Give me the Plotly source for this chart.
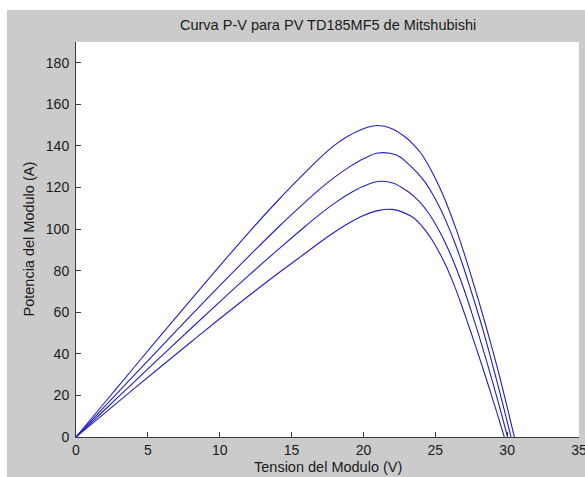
import plotly.graph_objects as go

# ---- Data ----
v_curve1 = [0, 2, 4, 6, 8, 10, 12, 14, 16, 17, 18, 19, 20, 21, 22, 23, 23.5, 24, 24.5, 25,
            25.5, 26, 26.5, 27, 27.5, 28, 28.5, 29, 29.5, 30, 30.5]
p_curve1 = [0, 16.6, 33.2, 49.7, 66.1, 82.3, 98.2, 113.4, 127.6, 134.4, 140.4, 145.0, 148.3, 149.8,
            148.3, 143.8, 140.5, 136.5, 131.0, 124.5, 117.0, 108.5, 99.0, 88.5, 77.5, 66.0, 54.0,
            41.5, 28.5, 14.5, 0]

v_curve2 = [0, 2, 4, 6, 8, 10, 12, 14, 16, 17, 18, 19, 20, 21, 22.3, 23.3, 23.8, 24.3, 24.8,
            25.3, 25.8, 26.3, 26.8, 27.3, 27.8, 28.3, 28.8, 29.3, 29.8, 30.27]
p_curve2 = [0, 14.7, 29.4, 44.0, 58.5, 72.8, 86.8, 100.4, 113.3, 119.5, 125.0, 129.8, 133.8, 136.6,
            135.6, 130.2, 126.7, 122.5, 117.0, 110.5, 103.0, 94.5, 85.0, 74.5, 63.5, 52.0, 39.5,
            26.5, 13.0, 0]

v_curve3 = [0, 2, 4, 6, 8, 10, 12, 14, 16, 17, 18, 19, 20, 21, 22.05, 23.05, 23.55, 24.05,
            24.55, 25.05, 25.55, 26.05, 26.55, 27.05, 27.55, 28.05, 28.55, 29.05, 29.55, 30.03]
p_curve3 = [0, 13.1, 26.2, 39.3, 52.2, 65.0, 77.6, 89.8, 101.6, 107.3, 112.5, 117.0, 120.6, 122.9,
            122.2, 118.3, 115.5, 112.0, 107.5, 102.0, 95.5, 88.0, 79.5, 70.0, 59.5, 48.5, 37.0,
            25.0, 12.5, 0]

v_curve4 = [0, 2, 4, 6, 8, 10, 12, 14, 16, 17, 18, 19, 20, 21, 22, 23.3, 23.8, 24.3, 24.8,
            25.3, 25.8, 26.3, 26.8, 27.3, 27.8, 28.3, 28.8, 29.3, 29.8]
p_curve4 = [0, 11.5, 23.0, 34.4, 45.7, 56.9, 67.8, 78.4, 88.6, 93.8, 98.6, 102.9, 106.5, 108.9,
            109.5, 106.3, 103.5, 99.5, 94.5, 88.5, 81.5, 73.3, 64.0, 54.0, 43.8, 33.3, 22.5,
            11.5, 0]

x_ticks = [0, 5, 10, 15, 20, 25, 30, 35]
y_ticks = [0, 20, 40, 60, 80, 100, 120, 140, 160, 180]

title_text = "Curva P-V para PV TD185MF5 de Mitshubishi"
x_label = "Tension del Modulo (V)"
y_label = "Potencia del Modulo (A)"

# ---- Figure (page body offset 7px left / 10px top gives the white strips) ----
W, H = 578, 467
ML, MR, MT, MB = 69, 6, 32, 40

FONT = "Liberation Sans, Arial, sans-serif"
LINE_COLOR = "#2020c0"
GRAY = "#cbcbcb"
TXT = "#1a1a1a"

fig = go.Figure()
for v, p in [(v_curve1, p_curve1), (v_curve2, p_curve2), (v_curve3, p_curve3), (v_curve4, p_curve4)]:
    fig.add_trace(go.Scatter(x=v, y=p, mode="lines",
                             line=dict(color=LINE_COLOR, width=1.1, shape="spline", smoothing=1.0),
                             showlegend=False, hoverinfo="skip"))

axis_common = dict(showgrid=False, zeroline=False, showline=True, linecolor="#3a3a3a", linewidth=1,
                   ticks="inside", ticklen=5, tickcolor="#3a3a3a", tickwidth=1,
                   tickfont=dict(family=FONT, size=14, color=TXT), mirror=False,
                   ticklabeloverflow="allow", automargin=False)

fig.update_layout(
    width=W, height=H,
    margin=dict(l=ML, r=MR, t=MT, b=MB, pad=0, autoexpand=False),
    paper_bgcolor=GRAY, plot_bgcolor="white",
    xaxis=dict(range=[0, 35], tickvals=x_ticks, ticktext=[str(t) for t in x_ticks], **axis_common),
    yaxis=dict(range=[0, 190], tickvals=y_ticks, ticktext=[str(t) for t in y_ticks],
               ticklabelstandoff=3, **axis_common),
    annotations=[
        dict(text=title_text, xref="paper", yref="paper", x=0.5, y=1, xanchor="center",
             yanchor="bottom", yshift=7, showarrow=False,
             font=dict(family=FONT, size=14.5, color=TXT)),
        dict(text=x_label, xref="paper", yref="paper", x=0.5, y=0, xanchor="center",
             yanchor="top", yshift=-20, showarrow=False,
             font=dict(family=FONT, size=14.5, color=TXT)),
        dict(text=y_label, xref="paper", yref="paper", x=0, y=0.5, xanchor="center",
             yanchor="middle", xshift=-(ML - 21), textangle=-90, showarrow=False,
             font=dict(family=FONT, size=14.5, color=TXT)),
    ],
)

fig.write_html(
    "out.html",
    post_script="document.body.style.margin='10px 0 0 7px';document.body.style.overflow='hidden';",
)
